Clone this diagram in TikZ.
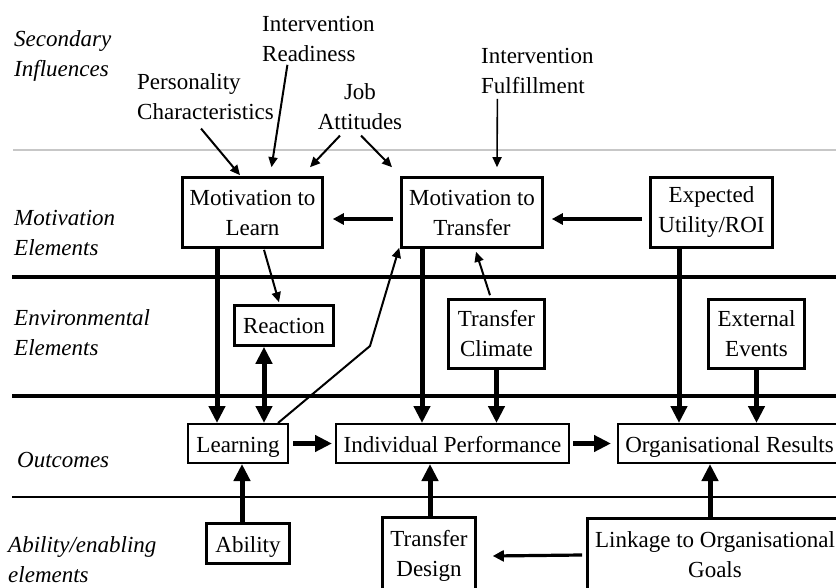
\documentclass[tikz,border=0pt]{standalone}
\usepackage{fontspec}
\setmainfont{Liberation Serif}
\usetikzlibrary{arrows.meta}
\begin{document}
\begin{tikzpicture}[x=1pt,y=-1pt,
  every node/.style={font=\fontsize{23}{30}\selectfont, inner sep=0pt},
  box/.style={draw, fill=white, line width=2.6pt, align=center},
  outbox/.style={draw, fill=white, line width=2pt, align=center},
  oneline/.style={text height=17pt, text depth=0pt},
  tag/.style={font=\fontsize{23}{30}\selectfont\itshape, align=left, anchor=west},
  influence/.style={align=left, anchor=north west},
  heavy/.style={line width=5pt, -{Triangle[length=17pt,width=16pt]}},
  heavyboth/.style={line width=5pt, {Triangle[length=17pt,width=16pt]}-{Triangle[length=17pt,width=16pt]}},
  light/.style={line width=2pt, -{Triangle[length=10pt,width=9pt]}},
  medium/.style={line width=3.2pt, -{Triangle[length=11pt,width=11pt]}},
  band/.style={line width=4pt},
]
\useasboundingbox (0,0) rectangle (836,588);
\clip (0,0) rectangle (836,588);

% layer separators
\draw[line width=2pt, black!22] (13,150) -- (840,150);
\draw[band] (12,277) -- (840,277);
\draw[band] (12,396) -- (840,396);
\draw[line width=2pt] (12,497) -- (840,497);

% row labels
\node[tag] (lsec) at (14,56) {Secondary\\Influences};
\node[tag] (lmot) at (14,232.5) {Motivation\\Elements};
\node[tag] (lenv) at (14,333) {Environmental\\Elements};
\node[tag] (lout) at (17,460) {Outcomes};
\node[tag] (labl) at (8,559.5) {Ability/enabling\\elements};

% secondary influences
\node[influence] (ir) at (262,16) {Intervention\\Readiness};
\node[influence] (pc) at (137,73) {Personality\\Characteristics};
\node[align=center, anchor=north] (ja) at (360,83) {Job\\Attitudes};
\node[influence] (ifl) at (481,48) {Intervention\\Fulfillment};

% motivation elements
\node[box, minimum width=140, minimum height=70] (mtl) at (252.5,212.5) {Motivation to\\Learn};
\node[box, minimum width=141, minimum height=70] (mtt) at (472,212.5) {Motivation to\\Transfer};
\node[box, minimum width=122, minimum height=70] (eu) at (711.5,212.5) {Expected\\Utility/ROI};

% environmental elements
\node[box, oneline, minimum width=99, minimum height=40] (react) at (284,325.5) {Reaction};
\node[box, minimum width=96, minimum height=69] (tc) at (496.5,334) {Transfer\\Climate};
\node[box, minimum width=96, minimum height=69] (ee) at (756.5,334) {External\\Events};

% outcomes
\node[outbox, oneline, minimum width=100, minimum height=39] (learn) at (238,443.5) {Learning};
\node[outbox, oneline, minimum width=233, minimum height=39] (ip) at (452.5,443.5) {Individual Performance};
\node[outbox, oneline, minimum width=223, minimum height=39] (or) at (729.5,443.5) {Organisational Results};

% ability / enabling elements
\node[box, oneline, minimum width=83, minimum height=40] (ability) at (248,543.5) {Ability};
\node[box, minimum width=93, minimum height=77] (td) at (429,556) {Transfer\\Design};
\node[box, minimum width=255, minimum height=73] (link) at (715,555) {Linkage to Organisational\\Goals};

% influences on motivation
\draw[light] ([xshift=-4.5,yshift=-9]pc.south) -- ([xshift=-12.5,yshift=1]mtl.north);
\draw[light] ([xshift=-31,yshift=-3]ir.south) -- ([xshift=19,yshift=9]mtl.north);
\draw[light] ([xshift=-20,yshift=-6]ja.south) -- ([xshift=57.5,yshift=9]mtl.north);
\draw[light] ([xshift=1,yshift=-6]ja.south) -- ([xshift=-80,yshift=9]mtt.north);
\draw[light, line width=1.6pt] ([xshift=-40,yshift=-5]ifl.south) -- ([xshift=25,yshift=9]mtt.north);

% links between motivation elements
\draw[medium] ([yshift=-6.5,xshift=-7]mtt.west) -- ([yshift=-6.5,xshift=9]mtl.east);
\draw[medium] ([yshift=-6.5,xshift=-7]eu.west) -- ([yshift=-6.5,xshift=8]mtt.east);

% thin feedback links
\draw[light] ([xshift=11.5,yshift=-1]mtl.south) -- ([xshift=-5,yshift=2]react.north);
\coordinate (kink) at (370,346);
\draw[light] ([xshift=40]learn.north) -- (kink) -- ([xshift=-1,yshift=1]mtt.south west);
\draw[light] ([xshift=-6.5,yshift=3]tc.north) -- ([xshift=4,yshift=-3]mtt.south);

% main causal links
\draw[heavy] ([xshift=-35.5]mtl.south) -- ([xshift=-21]learn.north);
\draw[heavyboth] ([xshift=-20]react.south) -- ([xshift=26]learn.north);
\draw[heavy] ([xshift=-6]ability.north) -- ([xshift=4]learn.south);
\draw[heavy] ([xshift=4]learn.east) -- ([xshift=-3]ip.west);
\draw[heavy] ([xshift=-50]mtt.south) -- ([xshift=-30.5]ip.north);
\draw[heavy] (tc.south) -- ([xshift=44]ip.north);
\draw[heavy] ([xshift=3]ip.east) -- ([xshift=-6]or.west);
\draw[heavy] ([xshift=-32.5]eu.south) -- ([xshift=-50.5]or.north);
\draw[heavy] (ee.south) -- ([xshift=27]or.north);
\draw[heavy] ([xshift=1]td.north) -- ([xshift=-22.5]ip.south);
\draw[heavy] ([xshift=-5]link.north) -- ([xshift=-19.5]or.south);
\draw[medium] ([xshift=-4]link.west) -- ([xshift=16]td.east);
\end{tikzpicture}
\end{document}
